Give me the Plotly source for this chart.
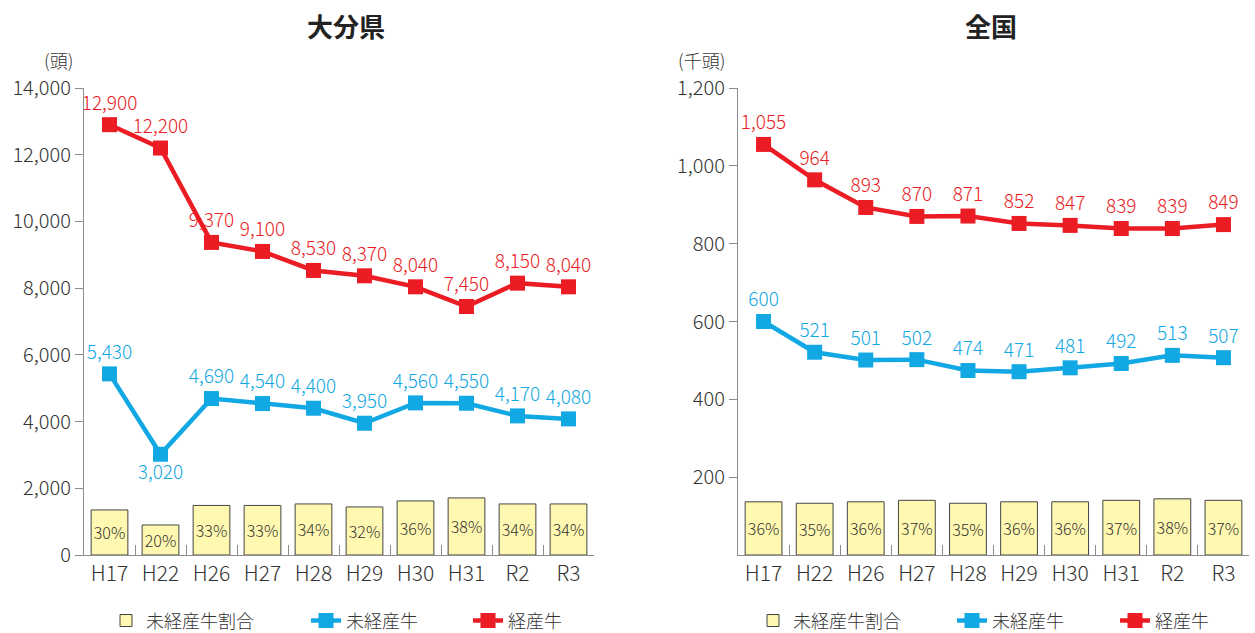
import plotly.graph_objects as go

years = ["H17", "H22", "H26", "H27", "H28", "H29", "H30", "H31", "R2", "R3"]

oita_keisan = [12900, 12200, 9370, 9100, 8530, 8370, 8040, 7450, 8150, 8040]
oita_mikeisan = [5430, 3020, 4690, 4540, 4400, 3950, 4560, 4550, 4170, 4080]
oita_ratio = [30, 20, 33, 33, 34, 32, 36, 38, 34, 34]

zenkoku_keisan = [1055, 964, 893, 870, 871, 852, 847, 839, 839, 849]
zenkoku_mikeisan = [600, 521, 501, 502, 474, 471, 481, 492, 513, 507]
zenkoku_ratio = [36, 35, 36, 37, 35, 36, 36, 37, 38, 37]

FONT = "Noto Sans CJK JP"
RED = "#EB1C24"
BLUE = "#11A8E3"
BARFILL = "#FFF8B0"
AXIS = "#8C8C8C"
TXT = "#333333"

W, H = 1255, 633
ytop = (H - 88) / H
ybot = (H - 555) / H

fig = go.Figure()


def add_panel(xa, ya, ya2, legs, keisan, mikeisan, ratio, blue_pos):
    fig.add_trace(go.Bar(
        x=years, y=ratio, xaxis=xa, yaxis=ya2, name="未経産牛割合",
        marker=dict(color=BARFILL, line=dict(color="#444444", width=1)),
        width=0.72,
        text=[f"{v}%" for v in ratio], textposition="inside",
        insidetextanchor="middle", textangle=0,
        textfont=dict(family=FONT, size=16, color=TXT, weight=300),
        constraintext="none", legend=legs[0], hoverinfo="skip",
    ))
    fig.add_trace(go.Scatter(
        x=years, y=mikeisan, xaxis=xa, yaxis=ya, name="未経産牛",
        mode="lines+markers+text",
        line=dict(color=BLUE, width=4.5),
        marker=dict(symbol="square", size=15, color=BLUE),
        texttemplate="%{y:,}", textposition=blue_pos,
        textfont=dict(family=FONT, size=19, color=BLUE, weight=300),
        legend=legs[1], cliponaxis=False,
    ))
    fig.add_trace(go.Scatter(
        x=years, y=keisan, xaxis=xa, yaxis=ya, name="経産牛",
        mode="lines+markers+text",
        line=dict(color=RED, width=4.5),
        marker=dict(symbol="square", size=15, color=RED),
        texttemplate="%{y:,}", textposition="top center",
        textfont=dict(family=FONT, size=19, color=RED, weight=300),
        legend=legs[2], cliponaxis=False,
    ))


left_blue_pos = ["top center"] * len(years)
left_blue_pos[1] = "bottom center"
add_panel("x", "y", "y3", ["legend", "legend2", "legend3"],
          oita_keisan, oita_mikeisan, oita_ratio, left_blue_pos)
add_panel("x2", "y2", "y4", ["legend4", "legend5", "legend6"],
          zenkoku_keisan, zenkoku_mikeisan, zenkoku_ratio, ["top center"] * len(years))

xcommon = dict(
    type="category", range=[-0.5, 9.5], showline=True, linecolor=AXIS, linewidth=1.2,
    ticks="inside", tickson="boundaries", ticklen=10, tickcolor=AXIS,
    showgrid=False, zeroline=False,
    tickfont=dict(family=FONT, size=21, color=TXT, weight=300),
)
ycommon = dict(
    showline=True, linecolor=AXIS, linewidth=1.2, ticks="outside", ticklen=8,
    tickcolor=AXIS, showgrid=False, zeroline=False,
    tickfont=dict(family=FONT, size=20, color=TXT, weight=300), domain=[ybot, ytop],
)

legend_x = [106, 306, 468, 753, 952, 1115]
legend_common = dict(orientation="h", y=-0.01, xanchor="left", yanchor="bottom",
                     font=dict(family=FONT, size=18, color=TXT, weight=300),
                     bgcolor="rgba(0,0,0,0)")
legends = {}
for i, lx in enumerate(legend_x):
    key = "legend" if i == 0 else f"legend{i + 1}"
    legends[key] = dict(legend_common, x=lx / W)

fig.update_layout(
    width=W, height=H, margin=dict(l=0, r=0, t=0, b=0, autoexpand=False),
    plot_bgcolor="white", paper_bgcolor="white",
    font=dict(family=FONT, color=TXT),
    barmode="overlay",
    xaxis=dict(xcommon, domain=[84 / W, 594 / W], anchor="y"),
    xaxis2=dict(xcommon, domain=[738 / W, 1249 / W], anchor="y2"),
    yaxis=dict(ycommon, range=[0, 14000], dtick=2000, tickformat=",", anchor="x"),
    yaxis2=dict(ycommon, range=[0, 1200], tickvals=[200, 400, 600, 800, 1000, 1200],
                tickformat=",", anchor="x2"),
    yaxis3=dict(range=[0, 311], overlaying="y", visible=False, anchor="x"),
    yaxis4=dict(range=[0, 316], overlaying="y2", visible=False, anchor="x2"),
    showlegend=True,
    annotations=[
        dict(text="<b>大分県</b>", x=346 / W, y=(H - 25) / H, xref="paper", yref="paper",
             xanchor="center", yanchor="middle",
             showarrow=False, font=dict(family=FONT, size=26, color="#222222")),
        dict(text="<b>全国</b>", x=991 / W, y=(H - 25) / H, xref="paper", yref="paper",
             xanchor="center", yanchor="middle",
             showarrow=False, font=dict(family=FONT, size=26, color="#222222")),
        dict(text="(頭)", x=58 / W, y=(H - 60) / H, xref="paper", yref="paper",
             xanchor="center", yanchor="middle",
             showarrow=False, font=dict(family=FONT, size=18, color=TXT, weight=300)),
        dict(text="(千頭)", x=701 / W, y=(H - 60) / H, xref="paper", yref="paper",
             xanchor="center", yanchor="middle",
             showarrow=False, font=dict(family=FONT, size=18, color=TXT, weight=300)),
    ],
    **legends,
)

fig.write_html("out.html", config={"displayModeBar": False},
               post_script="document.body.style.margin='0';document.body.style.padding='0';")
